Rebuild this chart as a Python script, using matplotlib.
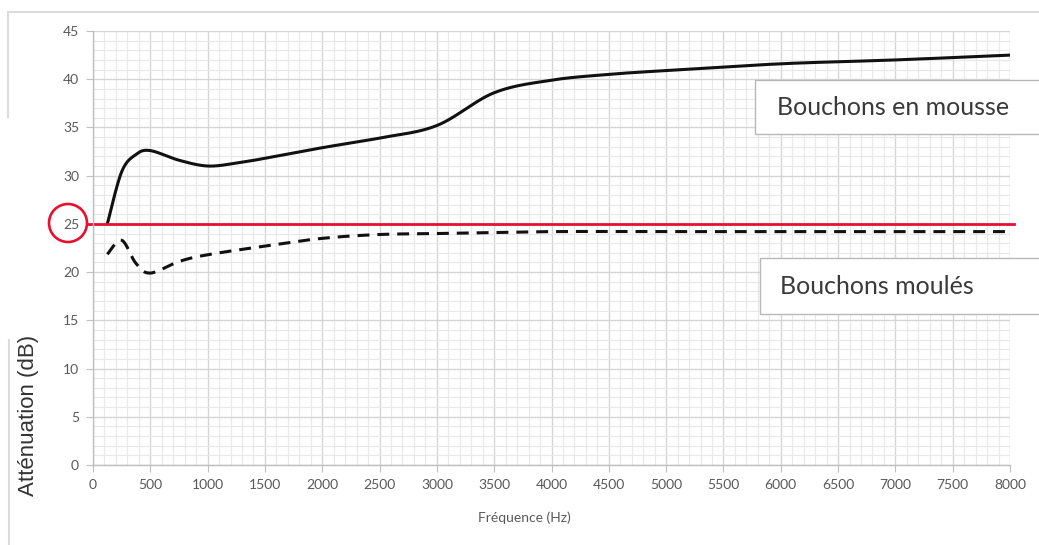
import numpy as np
import matplotlib
matplotlib.use("Agg")
import matplotlib.pyplot as plt
from matplotlib.patches import Rectangle, Ellipse
from matplotlib.lines import Line2D
from matplotlib.ticker import MultipleLocator

# values
freq_mousse = [125, 250, 375, 500, 750, 1000, 1250, 1500, 2000, 2500, 3000,
               3500, 4000, 4500, 5000, 6000, 7000, 8000]
att_mousse = [25.0, 30.4, 32.2, 32.6, 31.6, 31.0, 31.3, 31.8, 32.9, 33.9, 35.2,
              38.6, 39.9, 40.5, 40.9, 41.6, 42.0, 42.5]

freq_moules = [125, 250, 375, 500, 750, 1000, 1500, 2000, 2500, 3000, 4000,
               5000, 6000, 8000]
att_moules = [21.85, 23.3, 20.9, 19.9, 21.1, 21.8, 22.7, 23.5, 23.9, 24.0, 24.2,
              24.2, 24.2, 24.2]

seuil = 25

label_mousse = "Bouchons en mousse"
label_moules = "Bouchons moulés"
xlabel = "Fréquence (Hz)"
ylabel = "Atténuation (dB)"

W, H = 1039, 545


def smooth(x, y, n=30):
    """Excel-like smoothed line (parametric Catmull-Rom through the points)."""
    p = np.column_stack([x, y]).astype(float)
    # work in pixel-like units so x and y weigh the same
    sx = 8000.0 / 917
    sy = 45.0 / 434
    p = p / [sx, sy]
    pts = np.vstack([p[0], p, p[-1]])
    out = []
    for i in range(1, len(pts) - 2):
        p0, p1, p2, p3 = pts[i - 1], pts[i], pts[i + 1], pts[i + 2]
        m1 = (p2 - p0) / 2
        m2 = (p3 - p1) / 2
        t = np.linspace(0, 1, n)[:, None]
        h00 = 2 * t**3 - 3 * t**2 + 1
        h10 = t**3 - 2 * t**2 + t
        h01 = -2 * t**3 + 3 * t**2
        h11 = t**3 - t**2
        out.append(h00 * p1 + h10 * m1 + h01 * p2 + h11 * m2)
    c = np.vstack(out) * [sx, sy]
    return c[:, 0], c[:, 1]


def fx(x):
    return x / W


def fy(y):
    return 1 - y / H


fig = plt.figure(figsize=(W / 100, H / 100), dpi=100)
ax = fig.add_axes([fx(93), 80 / H, 917 / W, 434 / H])

ax.set_xlim(0, 8000)
ax.set_ylim(0, 45)
ax.xaxis.set_major_locator(MultipleLocator(500))
ax.xaxis.set_minor_locator(MultipleLocator(100))
ax.yaxis.set_major_locator(MultipleLocator(5))
ax.yaxis.set_minor_locator(MultipleLocator(1))
ax.grid(which="major", color="#d6d6d6", lw=1.0)
ax.grid(which="minor", color="#e8e8e8", lw=0.8)
ax.set_axisbelow(True)

for s in ["top", "right"]:
    ax.spines[s].set_visible(False)
for s in ["left", "bottom"]:
    ax.spines[s].set_color("#bfbfbf")
    ax.spines[s].set_linewidth(1.0)

ax.tick_params(which="major", length=5, color="#bfbfbf", labelsize=10,
               labelcolor="#595959", pad=5)
ax.tick_params(which="minor", length=0)
for lab in ax.get_xticklabels() + ax.get_yticklabels():
    lab.set_family("Lato")

# curves
xs, ys = smooth(freq_mousse, att_mousse)
ax.plot(xs, ys, color="#111111", lw=2.2, solid_capstyle="round")
xs, ys = smooth(freq_moules, att_moules)
ax.plot(xs, ys, color="#111111", lw=2.2, dashes=(3.9, 2.6))
ax.axhline(seuil, xmin=-0.005, xmax=1.004, color="#e8102e", lw=2.0, clip_on=False)

# red circle around the 25 label
fig.add_artist(Ellipse((fx(68), fy(223)), 38 / W, 38 / H, transform=fig.transFigure,
                       fill=False, edgecolor="#e8102e", lw=1.9))

# axis labels
fig.text(fx(524), fy(518), xlabel, ha="center", va="center", fontsize=10,
         color="#595959", family="Lato")
fig.text(fx(29), fy(415), ylabel, ha="center", va="center", rotation=90,
         fontsize=16, color="#333333", family="Liberation Sans")

# label boxes
fig.add_artist(Rectangle((fx(755), fy(134)), (1045 - 755) / W, 54 / H,
                         transform=fig.transFigure, facecolor="white",
                         edgecolor="#b8b8b8", lw=1.0, zorder=5))
fig.text(fx(777), fy(107), label_mousse, ha="left", va="center", fontsize=18,
         color="#3a3a3a", family="Lato", zorder=6)
fig.add_artist(Rectangle((fx(760), fy(314)), (1045 - 760) / W, 56 / H,
                         transform=fig.transFigure, facecolor="white",
                         edgecolor="#b8b8b8", lw=1.0, zorder=5))
fig.text(fx(780), fy(287), label_moules, ha="left", va="center", fontsize=18,
         color="#3a3a3a", family="Lato", zorder=6)

# screenshot frame remnants
frame = "#dcdcdc"
fig.add_artist(Line2D([fx(8), fx(1039)], [fy(12), fy(12)], color=frame, lw=1.5))
fig.add_artist(Line2D([fx(8), fx(8)], [fy(12), fy(117)], color=frame, lw=1.5))
fig.add_artist(Line2D([fx(9), fx(9)], [fy(340), fy(545)], color=frame, lw=1.5))

fig.savefig("out.png", dpi=100)
